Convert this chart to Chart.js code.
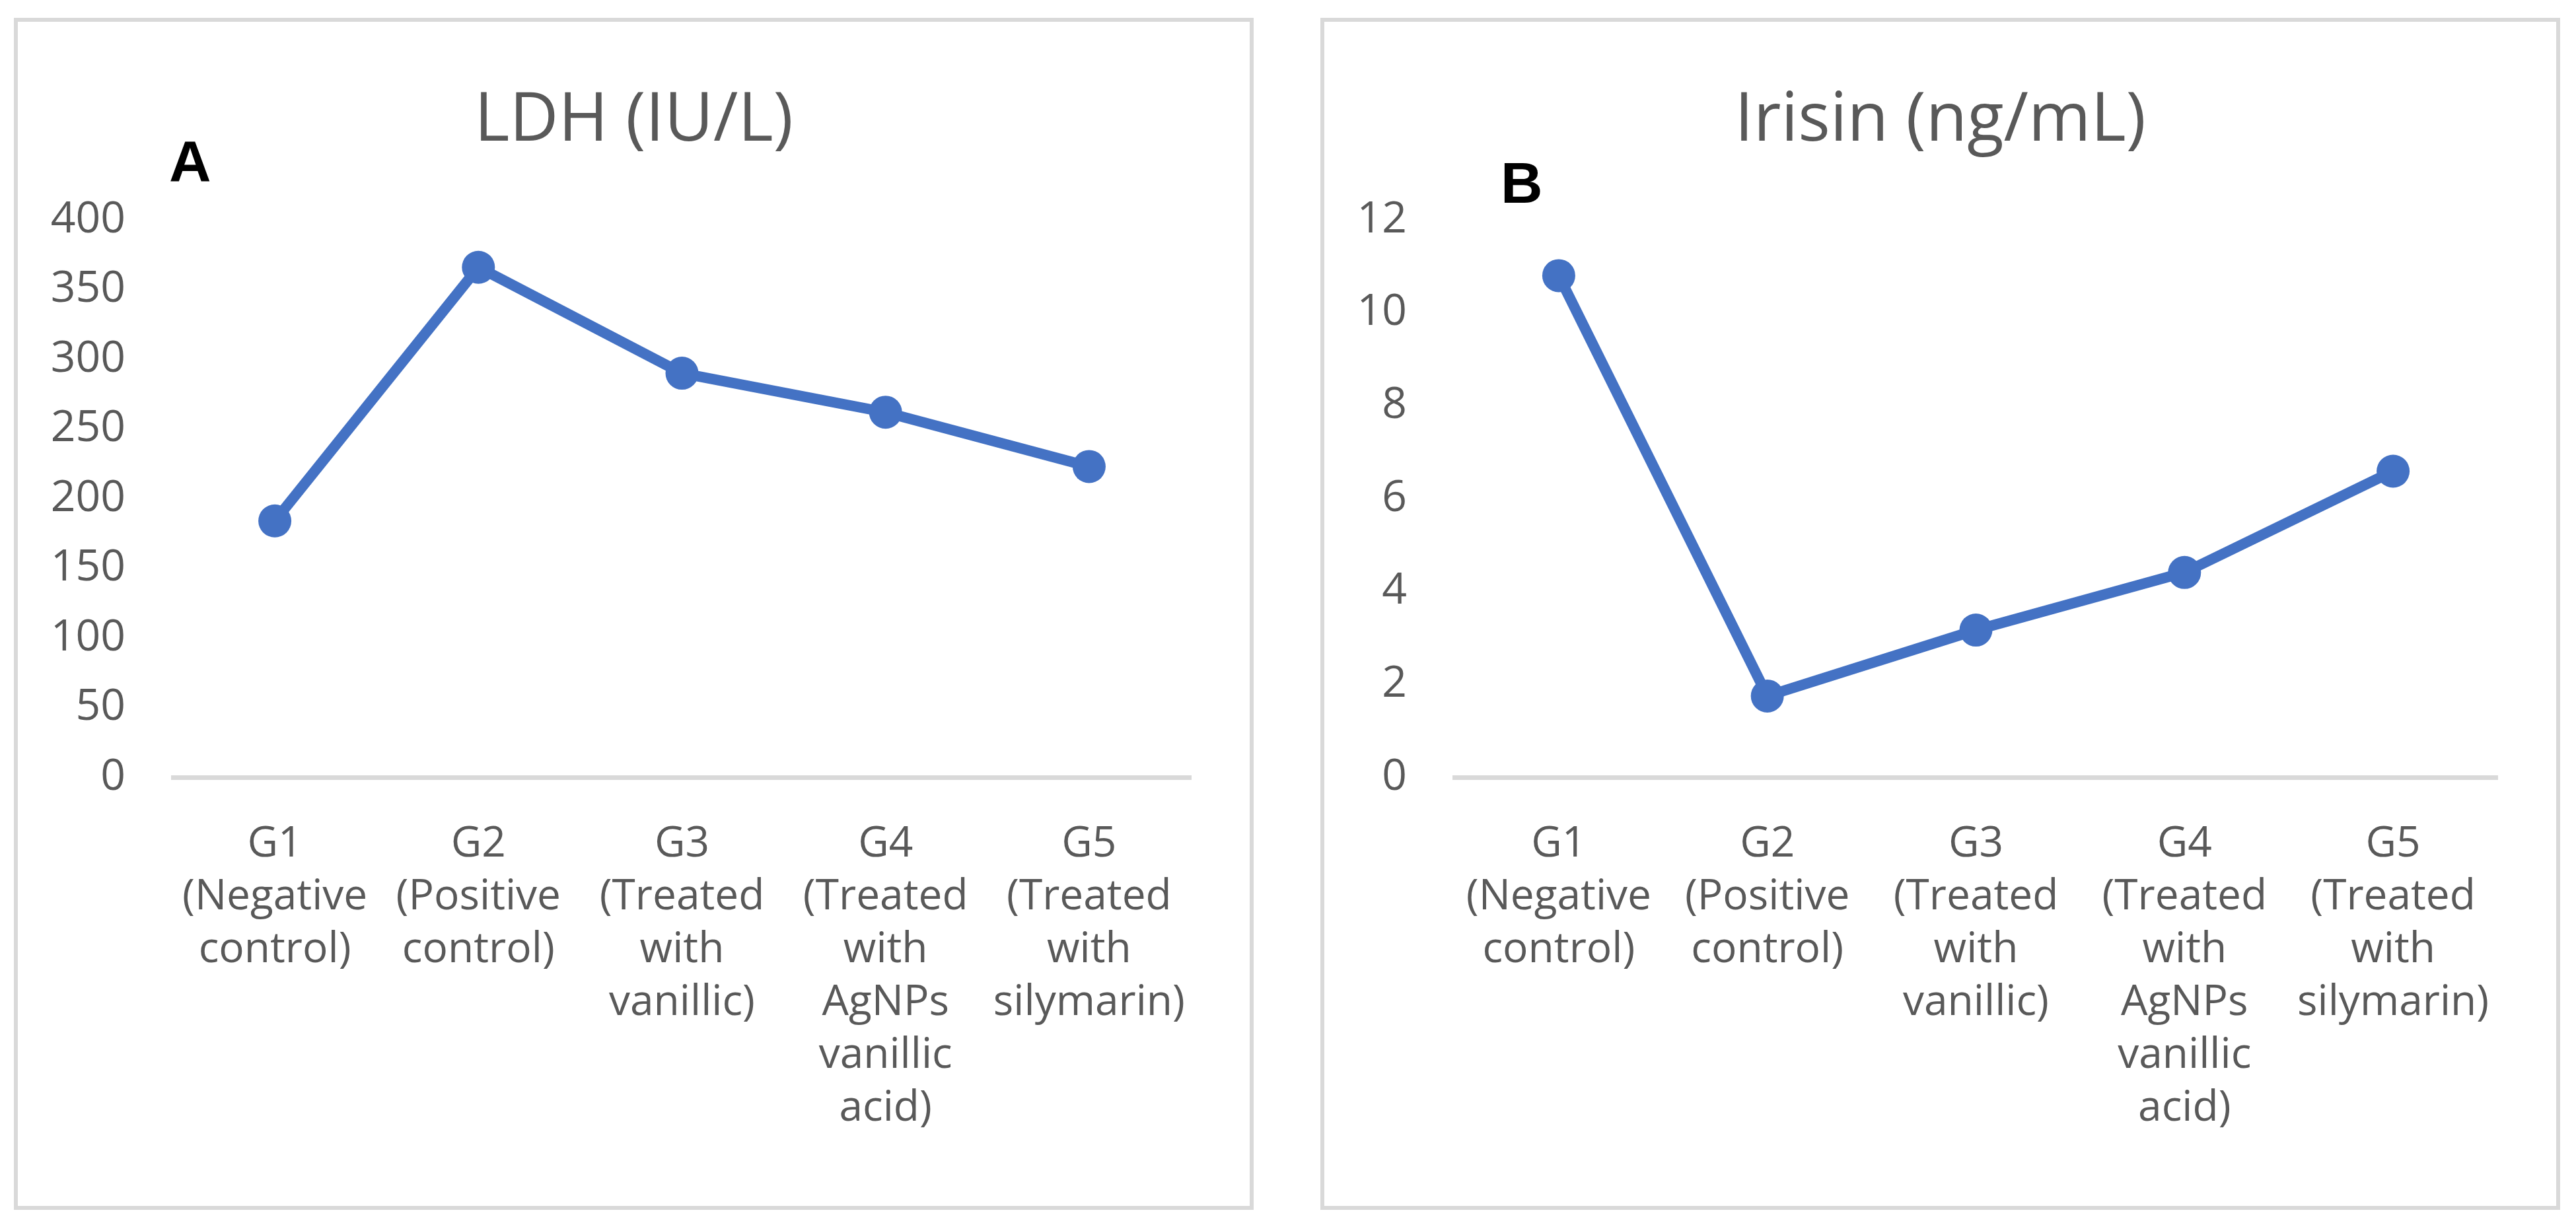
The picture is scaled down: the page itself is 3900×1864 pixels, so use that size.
<!DOCTYPE html>
<html lang="en">
<head>
  <meta charset="UTF-8">
  <title>LDH and Irisin</title>
  <style>
    body {
      margin: 0;
      width: 3900px;
      height: 1864px;
      background-color: #ffffff;
      position: relative;
      overflow: hidden;
    }

    .panel {
      position: absolute;
      top: 27px;
      width: 1877px;
      height: 1805px;
      border: 6px solid #d9d9d9;
      box-sizing: border-box;
    }

    #panelA { left: 21px; }
    #panelB { left: 1999px; }

    .panel canvas {
      position: absolute;
      left: 0;
      top: 0;
    }

    .title {
      position: absolute;
      top: 113px;
      width: 1877px;
      text-align: center;
      font-family: 'Open Sans', 'DejaVu Sans', sans-serif;
      font-size: 102px;
      line-height: 122px;
      color: #595959;
    }

    #titleA { left: 21px; }
    #titleB { left: 1999px; }

    .letter {
      position: absolute;
      font-family: 'Liberation Sans', Arial, sans-serif;
      font-weight: bold;
      font-size: 88px;
      line-height: 88px;
      color: #000000;
    }

    #letterA { left: 256px; top: 200px; }
    #letterB { left: 2272px; top: 233px; }
  </style>
</head>
<body>
  <div class="panel" id="panelA"><canvas id="ldhChart"></canvas></div>
  <div class="panel" id="panelB"><canvas id="irisinChart"></canvas></div>
  <div class="title" id="titleA">LDH (IU/L)</div>
  <div class="title" id="titleB">Irisin (ng/mL)</div>
  <div class="letter" id="letterA">A</div>
  <div class="letter" id="letterB">B</div>

  <script src="https://cdn.jsdelivr.net/npm/chart.js@4.4.1/dist/chart.umd.min.js"></script>
  <script>
    // groups (x axis, multi-line labels)
    const groups = [
      ['G1', '(Negative', 'control)'],
      ['G2', '(Positive', 'control)'],
      ['G3', '(Treated', 'with', 'vanillic)'],
      ['G4', '(Treated', 'with', 'AgNPs', 'vanillic', 'acid)'],
      ['G5', '(Treated', 'with', 'silymarin)']
    ];

    // values
    const ldhValues = [184, 366, 290, 262, 223];
    const irisinValues = [10.8, 1.75, 3.17, 4.41, 6.59];

    // y axis ticks: [min, max, step]
    const ldhTicks = [0, 400, 50];
    const irisinTicks = [0, 12, 2];

    const textColor = '#595959';
    const lineColor = '#4472C4';
    const fontFamily = "'Open Sans', 'DejaVu Sans', sans-serif";

    function makeChart(canvasId, values, ticks, yWidth) {
      const ctx = document.getElementById(canvasId).getContext('2d');
      return new Chart(ctx, {
        type: 'line',
        data: {
          labels: groups,
          datasets: [{
            data: values,
            borderColor: lineColor,
            backgroundColor: lineColor,
            borderWidth: 16,
            pointRadius: 25,
            pointBorderWidth: 0,
            pointBackgroundColor: lineColor,
            fill: false,
            tension: 0
          }]
        },
        options: {
          responsive: true,
          maintainAspectRatio: false,
          devicePixelRatio: 1,
          animation: false,
          layout: {
            // title lives in the page above, the top padding leaves room for it
            padding: { left: 0, right: 89, top: 300, bottom: 0 }
          },
          plugins: {
            legend: { display: false },
            tooltip: { enabled: false },
            title: { display: false }
          },
          scales: {
            x: {
              offset: true,
              grid: { display: false, drawTicks: false, offset: true },
              border: { display: true, color: '#d9d9d9', width: 7 },
              ticks: {
                color: textColor,
                font: { family: fontFamily, size: 64, lineHeight: 1.25 },
                padding: 62,
                maxRotation: 0,
                minRotation: 0,
                autoSkip: false
              },
              afterFit: function (scale) { scale.height = 649; }
            },
            y: {
              min: ticks[0],
              max: ticks[1],
              grid: { display: false, drawTicks: false },
              border: { display: false },
              ticks: {
                stepSize: ticks[2],
                color: textColor,
                font: { family: fontFamily, size: 66 },
                padding: 72
              },
              afterFit: function (scale) { scale.width = yWidth; }
            }
          }
        }
      });
    }

    makeChart('ldhChart', ldhValues, ldhTicks, 235);
    makeChart('irisinChart', irisinValues, irisinTicks, 197);
  </script>
</body>
</html>
